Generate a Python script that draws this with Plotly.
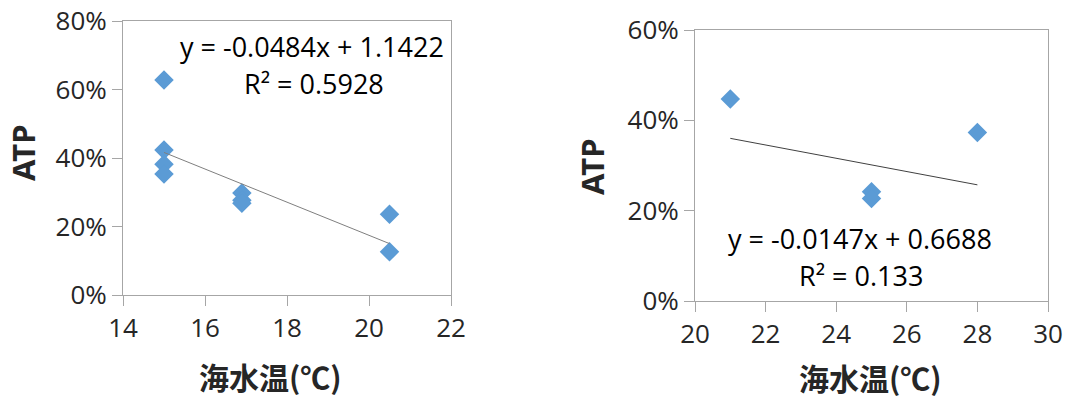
import plotly.graph_objects as go

# Left chart data
x_left = [15, 15, 15, 15, 16.9, 16.9, 16.9, 20.5, 20.5]
y_left = [0.628, 0.423, 0.382, 0.353, 0.298, 0.277, 0.268, 0.236, 0.126]
slope_left, icpt_left = -0.0484, 1.1422
eq_left = "y = -0.0484x + 1.1422"
r2_left = "R² = 0.5928"

# Right chart data
x_right = [21, 25, 25, 28]
y_right = [0.447, 0.242, 0.227, 0.373]
slope_right, icpt_right = -0.0147, 0.6688
eq_right = "y = -0.0147x + 0.6688"
r2_right = "R² = 0.133"

x_title = "海水温(℃)"
y_title = "ATP"

W, H = 1065, 400
marker = dict(symbol="diamond", size=15, color="#5B9BD5")
tick_font = dict(family="Open Sans, Noto Sans CJK JP", size=26, color="#262626")
title_font = dict(family="Noto Sans CJK JP", size=30, color="#262626")

fig = go.Figure()
fig.add_trace(go.Scatter(x=x_left, y=y_left, mode="markers", marker=marker,
                         xaxis="x", yaxis="y", showlegend=False))
lx = [min(x_left), max(x_left)]
fig.add_trace(go.Scatter(x=lx, y=[slope_left * v + icpt_left for v in lx], mode="lines",
                         line=dict(color="#7f7f7f", width=1), xaxis="x", yaxis="y", showlegend=False))
fig.add_trace(go.Scatter(x=x_right, y=y_right, mode="markers", marker=marker,
                         xaxis="x2", yaxis="y2", showlegend=False))
rx = [min(x_right), max(x_right)]
fig.add_trace(go.Scatter(x=rx, y=[slope_right * v + icpt_right for v in rx], mode="lines",
                         line=dict(color="#404040", width=1), xaxis="x2", yaxis="y2", showlegend=False))

axis_common = dict(showline=True, linecolor="#a6a6a6", linewidth=1, mirror=True,
                   showgrid=False, zeroline=False, ticks="outside", ticklen=10,
                   tickcolor="#a6a6a6", tickfont=tick_font, automargin=False)

fig.update_layout(
    width=W, height=H, margin=dict(l=0, r=0, t=0, b=0),
    paper_bgcolor="white", plot_bgcolor="white",
    xaxis=dict(axis_common, domain=[123 / W, 451 / W], range=[14, 22], dtick=2, anchor="y"),
    yaxis=dict(axis_common, domain=[1 - 295 / H, 1 - 21 / H], range=[0, 0.8], dtick=0.2,
               tickformat=".0%", anchor="x"),
    xaxis2=dict(axis_common, domain=[695 / W, 1048 / W], range=[20, 30], dtick=2, anchor="y2"),
    yaxis2=dict(axis_common, domain=[1 - 301 / H, 1 - 30 / H], range=[0, 0.6], dtick=0.2,
                tickformat=".0%", anchor="x2"),
)

ann = []
def txt(x, y, s, font, **kw):
    ann.append(dict(x=x / W, y=1 - y / H, xref="paper", yref="paper", text=s,
                    showarrow=False, font=font, xanchor="center", yanchor="middle", **kw))

eq_font = dict(family="Open Sans, Noto Sans CJK JP", size=27, color="#000000")
txt(312, 47, eq_left, eq_font)
txt(314, 83, r2_left, eq_font)
txt(860, 238, eq_right, eq_font)
txt(861, 275, r2_right, eq_font)
txt(270, 376, "<b>" + x_title + "</b>", title_font)
txt(870, 377, "<b>" + x_title + "</b>", title_font)
txt(23, 153, "<b>" + y_title + "</b>", dict(title_font, family="Noto Sans", size=31), textangle=-90)
txt(592, 167, "<b>" + y_title + "</b>", dict(title_font, family="Noto Sans", size=31), textangle=-90)
fig.update_layout(annotations=ann)

fig.write_html("out.html", config={"displayModeBar": False},
               post_script="document.body.style.margin='0';")
